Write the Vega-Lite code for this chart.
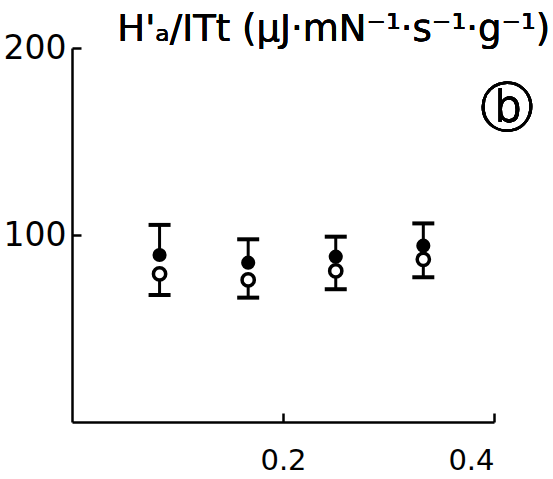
{
  "$schema": "https://vega.github.io/schema/vega-lite/v6.json",
  "autosize": "none",
  "width": 422,
  "height": 374,
  "padding": {"left": 72, "top": 48, "right": 59, "bottom": 57},
  "background": "white",
  "config": {
    "view": {"stroke": null},
    "font": "DejaVu Sans",
    "axis": {
      "grid": false,
      "domainColor": "black",
      "domainWidth": 2.5,
      "tickColor": "black",
      "tickWidth": 2.5,
      "labelColor": "black",
      "labelFont": "DejaVu Sans",
      "labelFontSize": 30,
      "title": null
    }
  },
  "data": {
    "values": [
      {"x": 0.083, "filled": 89.3, "hi": 105.4, "open": 79.2, "lo": 67.9},
      {"x": 0.167, "filled": 85.2, "hi": 97.7, "open": 76.0, "lo": 66.5},
      {"x": 0.25, "filled": 88.4, "hi": 99.1, "open": 80.8, "lo": 71.0},
      {"x": 0.333, "filled": 94.3, "hi": 106.2, "open": 87.0, "lo": 77.4}
    ]
  },
  "encoding": {
    "x": {
      "field": "x", "type": "quantitative",
      "scale": {"domain": [0, 0.4], "nice": false, "zero": false},
      "axis": {"values": [0.2, 0.4], "tickSize": -9, "labelPadding": 33, "labelFontSize": 29, "format": ".1f", "title": null}
    }
  },
  "layer": [
    {
      "mark": {"type": "rule", "color": "black", "strokeWidth": 3},
      "encoding": {
        "y": {
          "field": "filled", "type": "quantitative",
          "scale": {"domain": [0, 200], "nice": false},
          "axis": {"values": [100, 200], "tickSize": -9, "labelPadding": 15, "labelFontSize": 33, "format": "d", "title": null}
        },
        "y2": {"field": "hi"}
      }
    },
    {
      "mark": {"type": "tick", "orient": "horizontal", "color": "black", "size": 22, "thickness": 4, "opacity": 1},
      "encoding": {"y": {"field": "hi", "type": "quantitative"}}
    },
    {
      "mark": {"type": "rule", "color": "black", "strokeWidth": 3},
      "encoding": {"y": {"field": "open", "type": "quantitative"}, "y2": {"field": "lo"}}
    },
    {
      "mark": {"type": "tick", "orient": "horizontal", "color": "black", "size": 22, "thickness": 4, "opacity": 1},
      "encoding": {"y": {"field": "lo", "type": "quantitative"}}
    },
    {
      "mark": {"type": "point", "shape": "circle", "filled": true, "fill": "white", "stroke": "black", "strokeWidth": 3.5, "size": 150, "opacity": 1},
      "encoding": {"y": {"field": "open", "type": "quantitative"}}
    },
    {
      "mark": {"type": "point", "shape": "circle", "filled": true, "color": "black", "size": 200, "opacity": 1},
      "encoding": {"y": {"field": "filled", "type": "quantitative"}}
    },
    {
      "mark": {"type": "text", "text": "H'ₐ/ITt  (μJ·mN⁻¹·s⁻¹·g⁻¹)", "align": "left", "baseline": "alphabetic", "font": "DejaVu Sans", "fontSize": 37, "color": "black"},
      "encoding": {"x": {"datum": 0.043}, "y": {"datum": 204}}
    },
    {
      "mark": {"type": "text", "text": "ⓑ", "align": "center", "baseline": "middle", "font": "DejaVu Sans", "fontSize": 54, "color": "black"},
      "encoding": {"x": {"datum": 0.412}, "y": {"datum": 167}}
    }
  ]
}
